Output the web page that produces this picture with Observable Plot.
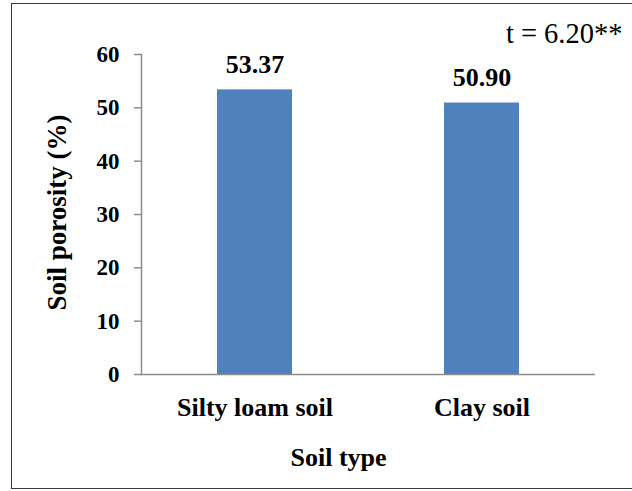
<!DOCTYPE html>
<html>
<head>
<meta charset="utf-8">
<script src="https://cdn.jsdelivr.net/npm/d3@7"></script>
<script src="https://cdn.jsdelivr.net/npm/@observablehq/plot@0.6"></script>
<style>
  html, body { margin: 0; padding: 0; background: #fff; }
  #wrap { position: relative; width: 632px; height: 491px; overflow: hidden; }
  #border { position: absolute; left: 11px; top: 3px; width: 640px; height: 484px; border: 1.5px solid #3a3a3a; pointer-events: none; }
  #wrap svg { position: absolute; left: 0; top: 0; }
</style>
</head>
<body>
<div id="wrap"><div id="border"></div></div>
<script>
const soilTypes = ["Silty loam soil", "Clay soil"];
const porosity = [53.37, 50.90];
const valueLabels = ["53.37", "50.90"];
const yTicks = [0, 10, 20, 30, 40, 50, 60];
const yTitle = "Soil porosity (%)";
const xTitle = "Soil type";
const note = "t = 6.20**";

const data = soilTypes.map((s, i) => ({soil: s, value: porosity[i], label: valueLabels[i]}));
const gray = "#8c8c8c";

const chart = Plot.plot({
  width: 632,
  height: 491,
  marginLeft: 141,
  marginRight: 37,
  marginTop: 54,
  marginBottom: 117,
  style: {fontFamily: "'Liberation Serif', 'Times New Roman', serif", fontWeight: "bold", color: "#000", background: "transparent"},
  x: {domain: soilTypes, paddingInner: 0.67, paddingOuter: 0.335, label: null},
  y: {domain: [0, 60], ticks: yTicks, label: null},
  marks: [
    Plot.barY(data, {x: "soil", y: "value", fill: "#4F81BD"}),
    Plot.frame({anchor: "left", stroke: gray, strokeWidth: 1.5}),
    Plot.ruleY([0], {stroke: gray, strokeWidth: 1.5}),
    Plot.axisY({ticks: yTicks, tickSize: 7, tickPadding: 15, stroke: gray, strokeWidth: 1.5, fill: "#000", fontSize: 23, fontWeight: "bold", label: null}),
    Plot.axisX({tickSize: 0, tickPadding: 23, fontSize: 26, fontWeight: "bold", fill: "#000", label: null}),
    Plot.text(data, {x: "soil", y: "value", text: "label", dy: -17, lineAnchor: "bottom", fontSize: 26, fontWeight: "bold", fill: "#000"}),
    Plot.text([yTitle], {frameAnchor: "left", textAnchor: "middle", dx: -84, dy: -2, rotate: -90, fontSize: 27, fontWeight: "bold", fill: "#000"}),
    Plot.text([xTitle], {frameAnchor: "bottom", dx: -30, dy: 91, lineAnchor: "bottom", fontSize: 26, fontWeight: "bold", fill: "#000"}),
    Plot.text([note], {frameAnchor: "top-right", textAnchor: "end", dx: 27, dy: -12, lineAnchor: "bottom", fontSize: 28.5, fontWeight: "normal", fill: "#000"})
  ]
});
document.getElementById("wrap").appendChild(chart);
</script>
</body>
</html>
